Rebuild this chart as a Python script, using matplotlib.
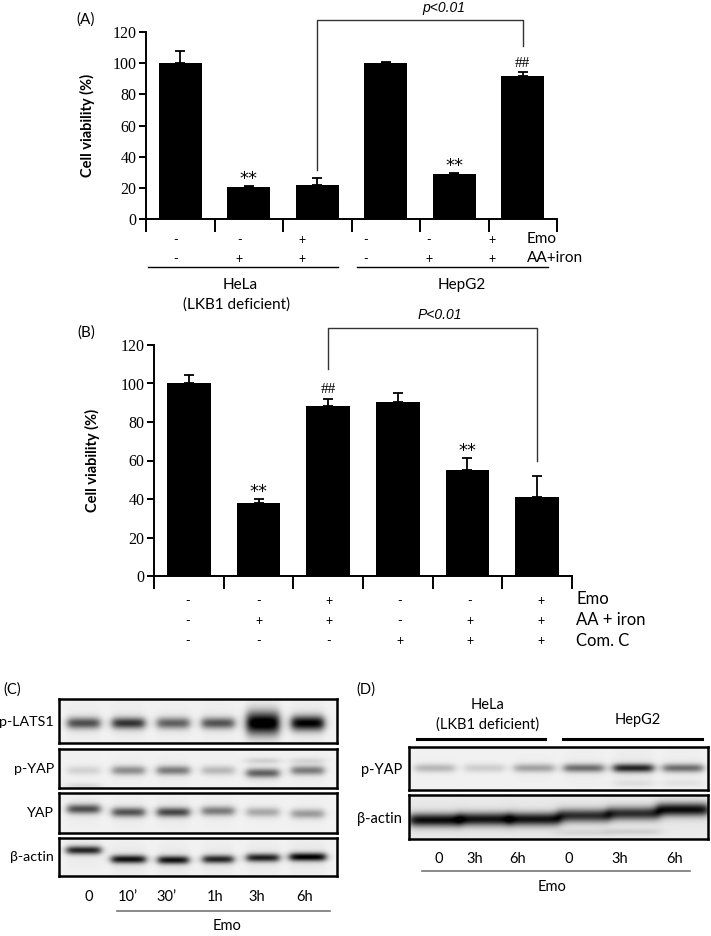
import numpy as np
import matplotlib
matplotlib.use('Agg')
import matplotlib.pyplot as plt
from matplotlib.lines import Line2D

plt.rcParams['font.family'] = ['Lato', 'DejaVu Sans']

# ---------------- data ----------------
# panel A : cell viability (%)
a_vals = [100, 20.3, 21.9, 100, 28.8, 92]
a_err = [8, 0.6, 4.3, 0.5, 0.5, 2.3]
a_emo = ['-', '-', '+', '-', '-', '+']
a_aa = ['-', '+', '+', '-', '+', '+']
a_marks = ['', '**', '', '', '**', '##']

# panel B : cell viability (%)
b_vals = [100, 37.9, 88.4, 90.3, 55.2, 41.2]
b_err = [4.3, 1.9, 3.4, 4.9, 5.9, 10.6]
b_emo = ['-', '-', '+', '-', '-', '+']
b_aa = ['-', '+', '+', '-', '+', '+']
b_comc = ['-', '-', '-', '+', '+', '+']
b_marks = ['', '**', '##', '', '**', '']

# panel C : western blot band intensities (0 = none, 1 = saturated)
c_lanes = ['0', "10\u2019", "30\u2019", '1h', '3h', '6h']
c_lats1 = [0.62, 0.72, 0.55, 0.6, 1.0, 0.92]
c_pyap = [0.12, 0.38, 0.45, 0.22, 0.55, 0.45]
c_yap = [0.62, 0.6, 0.65, 0.45, 0.28, 0.33]
c_actin = [0.78, 0.85, 0.85, 0.78, 0.8, 0.92]

# panel D
d_lanes = ['0', '3h', '6h', '0', '3h', '6h']
d_pyap = [0.22, 0.14, 0.3, 0.5, 0.78, 0.5]
d_actin = [0.85, 0.82, 0.82, 0.72, 0.72, 0.85]

W, H = 711, 936
fig = plt.figure(figsize=(W / 100, H / 100), dpi=100)

ov = fig.add_axes([0, 0, 1, 1])
ov.set_xlim(0, W)
ov.set_ylim(H, 0)
ov.axis('off')


def px_axes(l, t, r, b):
    return fig.add_axes([l / W, 1 - b / H, (r - l) / W, (b - t) / H])


def bar_panel(box, vals, err, marks):
    ax = px_axes(*box)
    ax.patch.set_alpha(0)
    x = np.arange(len(vals))
    ax.bar(x, vals, width=0.63, color='black', zorder=2)
    ax.errorbar(x, vals, yerr=[np.zeros(len(err)), err], fmt='none',
                ecolor='black', elinewidth=1.3, capsize=3.5, capthick=1.3, zorder=1)
    for i, m in enumerate(marks):
        if m:
            top = vals[i] + err[i]
            if m == '##':
                ax.text(i, top + 1.5, m, ha='center', va='bottom', fontsize=11,
                        family='Liberation Serif')
            else:
                ax.annotate('**', (i, top), xytext=(0, 5), textcoords='offset points',
                            ha='center', va='center', fontsize=13, family='DejaVu Sans')
    ax.set_xlim(-0.5, len(vals) - 0.5)
    ax.set_ylim(0, 120)
    ax.set_yticks(range(0, 121, 20))
    ax.set_xticks(np.arange(-0.5, len(vals), 1.0))
    ax.set_xticklabels([])
    for s in ['top', 'right']:
        ax.spines[s].set_visible(False)
    for s in ['left', 'bottom']:
        ax.spines[s].set_linewidth(1.4)
    ax.tick_params(axis='y', direction='out', length=5, width=1.4, pad=2,
                   labelsize=11.5, labelfontfamily='Liberation Serif')
    ax.tick_params(axis='x', direction='out', length=9, width=1.4)
    ax.set_ylabel('Cell viability (%)', fontsize=10.5, fontweight='bold', labelpad=4)
    return ax


def bracket(ax, i0, i1, y_top, y0, y1, label, lx):
    ax.add_line(Line2D([i0, i0, i1, i1], [y0, y_top, y_top, y1], color='#333333',
                       lw=1.0, clip_on=False))
    ax.text(lx, y_top + 3, label, ha='center', va='bottom', fontsize=10,
            style='italic', family='Liberation Sans')


# ---------------- panel A ----------------
axA = bar_panel((146, 32, 557, 219), a_vals, a_err, a_marks)
bracket(axA, 2, 5, 127.7, 31.5, 111, 'p<0.01', 3.85)
axA.yaxis.set_label_coords(-0.125, 0.5)

for i in range(6):
    ov.text(176 + 63.2 * i, 240, a_emo[i], ha='center', va='center', fontsize=9)
    ov.text(176 + 63.2 * i, 259, a_aa[i], ha='center', va='center', fontsize=9)
ov.text(527, 239, 'Emo', ha='left', va='center', fontsize=11)
ov.text(527, 258, 'AA+iron', ha='left', va='center', fontsize=11)
ov.plot([148, 338], [267, 267], color='black', lw=1.0)
ov.plot([357, 548], [267, 267], color='black', lw=1.0)
ov.text(240, 285, 'HeLa', ha='center', va='center', fontsize=11)
ov.text(237, 305, '(LKB1 deficient)', ha='center', va='center', fontsize=11)
ov.text(462, 285, 'HepG2', ha='center', va='center', fontsize=11)
ov.text(76, 20, '(A)', ha='left', va='center', fontsize=11)

# ---------------- panel B ----------------
axB = bar_panel((154, 345, 572, 576), b_vals, b_err, b_marks)
bracket(axB, 2, 5, 128.8, 107.5, 60, 'P<0.01', 3.6)
axB.yaxis.set_label_coords(-0.13, 0.5)

for i in range(6):
    ov.text(188 + 70.5 * i, 601, b_emo[i], ha='center', va='center', fontsize=9)
    ov.text(188 + 70.5 * i, 621, b_aa[i], ha='center', va='center', fontsize=9)
    ov.text(188 + 70.5 * i, 641, b_comc[i], ha='center', va='center', fontsize=9)
ov.text(576, 599, 'Emo', ha='left', va='center', fontsize=12)
ov.text(576, 620, 'AA + iron', ha='left', va='center', fontsize=12)
ov.text(576, 641, 'Com. C', ha='left', va='center', fontsize=12)
ov.text(77, 333, '(B)', ha='left', va='center', fontsize=11)


# ---------------- blots ----------------
def blot(box, levels, yc, sy, hw, xlim, extra=None, bg=0.95):
    ax = px_axes(*box)
    l, t, r, b = box
    w, h = (r - l) * 3, (b - t) * 3
    xs = np.linspace(xlim[0], xlim[1], w)[None, :]
    ys = np.linspace(0, 1, h)[:, None]
    n = len(levels)
    yc = np.broadcast_to(np.asarray(yc, float), (n,))
    sy = np.broadcast_to(np.asarray(sy, float), (n,))
    hw = np.broadcast_to(np.asarray(hw, float), (n,))
    dark = np.zeros((h, w))
    for i, lv in enumerate(levels):
        lane = 1 / (1 + np.exp((np.abs(xs - i) - hw[i]) / 0.05))
        dark += lv * np.exp(-((ys - yc[i]) / sy[i]) ** 2) * lane
        dark += 0.05 * lv * lane * np.exp(-((ys - yc[i]) / 0.45) ** 2)
    if extra:
        for i, y0, lv in extra:
            lane = 1 / (1 + np.exp((np.abs(xs - i) - hw[i]) / 0.08))
            dark += lv * np.exp(-((ys - y0) / 0.08) ** 2) * lane
    img = np.clip(bg - dark, 0, 1)
    ax.imshow(img, cmap='gray', vmin=0, vmax=1, aspect='auto',
              extent=(xlim[0], xlim[1], 1, 0), interpolation='bilinear')
    ax.set_xlim(*xlim)
    ax.set_ylim(1, 0)
    ax.set_xticks([])
    ax.set_yticks([])
    for s in ax.spines.values():
        s.set_linewidth(1.8)
    return ax


cx = (-0.55, 5.65)
blot((59, 699, 337, 743), c_lats1, 0.55, [0.13, 0.13, 0.13, 0.13, 0.26, 0.17], 0.36, cx)
blot((59, 749, 337, 788), c_pyap, [0.55, 0.55, 0.55, 0.55, 0.62, 0.55], 0.12, 0.36, cx,
     extra=[(4, 0.3, 0.12), (5, 0.3, 0.1), (0, 0.95, 0.1)])
blot((59, 793, 337, 833), c_yap, [0.4, 0.48, 0.48, 0.45, 0.48, 0.52], 0.12, 0.36, cx)
blot((59, 838, 337, 876), c_actin, [0.32, 0.56, 0.58, 0.56, 0.52, 0.5], 0.11,
     [0.38, 0.38, 0.34, 0.34, 0.36, 0.4], cx)

for lab, y in zip(['p-LATS1', 'p-YAP', 'YAP', '\u03b2-actin'], [722, 769, 813, 857]):
    ov.text(54, y, lab, ha='right', va='center', fontsize=10.3)
for i, lab in enumerate(c_lanes):
    ov.text([89, 128, 166, 215, 257, 305][i], 897, lab, ha='center', va='center', fontsize=10.5)
ov.plot([117, 330], [911, 911], color='#777777', lw=1.2)
ov.text(227, 926, 'Emo', ha='center', va='center', fontsize=10.5)
ov.text(3, 690, '(C)', ha='left', va='center', fontsize=10.5)

dx = (-0.52, 5.5)
blot((409, 747, 708, 790), d_pyap, 0.49, 0.1, 0.4, dx,
     extra=[(4, 0.85, 0.06), (5, 0.85, 0.05)])
blot((409, 795, 708, 839), d_actin, [0.57, 0.55, 0.55, 0.47, 0.42, 0.33], 0.15, 0.52, dx,
     extra=[(3, 0.86, 0.08), (4, 0.84, 0.1)], bg=0.93)

ov.text(402, 770, 'p-YAP', ha='right', va='center', fontsize=10.5)
ov.text(402, 819, '\u03b2-actin', ha='right', va='center', fontsize=10.5)
ov.plot([417, 545], [739, 739], color='black', lw=2.2)
ov.plot([563, 702], [739, 739], color='black', lw=2.2)
ov.text(488, 705, 'HeLa', ha='center', va='center', fontsize=10.5)
ov.text(488, 725, '(LKB1 deficient)', ha='center', va='center', fontsize=10.5)
ov.text(638, 720, 'HepG2', ha='center', va='center', fontsize=10.5)
for i, lab in enumerate(d_lanes):
    ov.text([439, 475, 518, 569, 620, 675][i], 859, lab, ha='center', va='center', fontsize=10.5)
ov.plot([422, 690], [871, 871], color='#777777', lw=1.2)
ov.text(552, 887, 'Emo', ha='center', va='center', fontsize=10.5)
ov.text(356, 690, '(D)', ha='left', va='center', fontsize=10.5)

fig.savefig('out.png', dpi=100)
